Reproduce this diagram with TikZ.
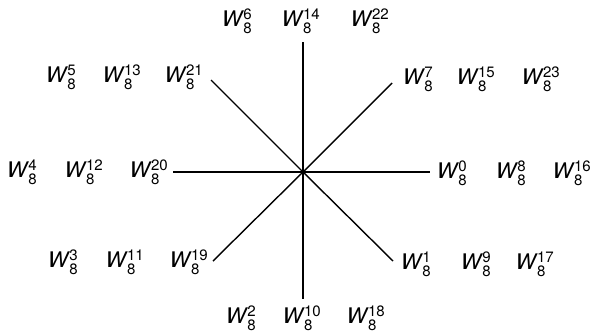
\documentclass[tikz,border=0pt]{standalone}
\usepackage{amsmath}
\usepackage{fontspec}
\setmainfont{TeX Gyre Heros}
\usepackage{tikz}

\newcommand{\twid}[1]{$\text{\itshape W}\mkern1mu_{\text{8}}^{\text{#1}}$}

\begin{document}
\begin{tikzpicture}[x=1pt, y=-1pt, line width=1.4pt, every node/.style={inner sep=0pt, font=\fontsize{21.5}{25}\selectfont}]
            \useasboundingbox (0,0) rectangle (593,333);
            \coordinate (o) at (303,172);

            % spokes
            \coordinate (e) at (430,172);
            \coordinate (ne) at (392,83);
            \coordinate (n) at (303,42);
            \coordinate (nw) at (211,80);
            \coordinate (w) at (173,172);
            \coordinate (sw) at (213,261);
            \coordinate (s) at (303,299);
            \coordinate (se) at (393,261);
            \draw (o) -- (e);
            \draw (o) -- (ne);
            \draw (o) -- (n);
            \draw (o) -- (nw);
            \draw (o) -- (w);
            \draw (o) -- (sw);
            \draw (o) -- (s);
            \draw (o) -- (se);

            % k = 0 ... 7
            \node (w0) at (452,173) {\twid{0}};
            \node (w1) at (416,264) {\twid{1}};
            \node (w2) at (241,318) {\twid{2}};
            \node (w3) at (63,262) {\twid{3}};
            \node (w4) at (22,172) {\twid{4}};
            \node (w5) at (61,77) {\twid{5}};
            \node (w6) at (237,21) {\twid{6}};
            \node (w7) at (418,79) {\twid{7}};

            % k = 8 ... 15
            \node (w8) at (511,173) {\twid{8}};
            \node (w9) at (476,264) {\twid{9}};
            \node (w10) at (302,318) {\twid{10}};
            \node (w11) at (125,262) {\twid{11}};
            \node (w12) at (84,172) {\twid{12}};
            \node (w13) at (122,77) {\twid{13}};
            \node (w14) at (301,21) {\twid{14}};
            \node (w15) at (476,79) {\twid{15}};

            % k = 16 ... 23
            \node (w16) at (572,173) {\twid{16}};
            \node (w17) at (535,264) {\twid{17}};
            \node (w18) at (366,318) {\twid{18}};
            \node (w19) at (189,262) {\twid{19}};
            \node (w20) at (149,172) {\twid{20}};
            \node (w21) at (184,77) {\twid{21}};
            \node (w22) at (370,21) {\twid{22}};
            \node (w23) at (541,79) {\twid{23}};
        \end{tikzpicture}
\end{document}
